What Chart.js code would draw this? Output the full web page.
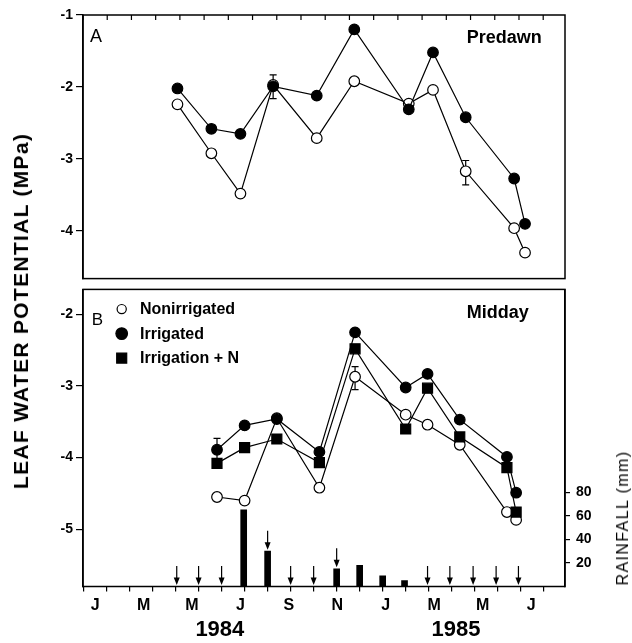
<!DOCTYPE html>
<html>
<head>
<meta charset="utf-8">
<script src="https://cdn.jsdelivr.net/npm/chart.js@4.4.1/dist/chart.umd.min.js"></script>
<style>
  html, body { margin: 0; padding: 0; background: #fff; }
  #wrap { position: relative; width: 632px; height: 643px; overflow: hidden; font-family: 'Liberation Sans', Arial, sans-serif; color: #000; }
  canvas { position: absolute; left: 0; }
  #cA { top: 0; }
  #cB { top: 275px; }
  .vt { position: absolute; white-space: nowrap; transform: translate(-50%, -50%) rotate(-90deg); }
</style>
</head>
<body>
<div id="wrap">
  <canvas id="cA" width="632" height="290"></canvas>
  <canvas id="cB" width="632" height="368"></canvas>
  <div class="vt" style="left:21px; top:311px; font-size:21px; font-weight:bold; letter-spacing:1.3px;">LEAF WATER POTENTIAL (MPa)</div>
  <div class="vt" style="left:623px; top:518px; font-size:16px; letter-spacing:1.4px;">RAINFALL (mm)</div>
</div>
<script>
// x values are months counted from 1 Jan 1984
const monthLabels = ['J', 'M', 'M', 'J', 'S', 'N', 'J', 'M', 'M', 'J'];
const monthLabelPos = [0.5, 2.5, 4.5, 6.5, 8.5, 10.5, 12.5, 14.5, 16.5, 18.5];
const yearLabels = ['1984', '1985'];
const yearLabelPos = [5.65, 15.4];

// A: predawn
const datesA = [3.9, 5.3, 6.5, 7.85, 9.65, 11.2, 13.45, 14.45, 15.8, 17.8, 18.25];
const irrigatedA = [-2.02, -2.58, -2.65, -1.99, -2.12, -1.2, -2.31, -1.52, -2.42, -3.27, -3.9];
const nonirrigatedA = [-2.24, -2.92, -3.48, -1.97, -2.71, -1.92, -2.23, -2.04, -3.17, -3.96, -4.3];
const errDatesA = [7.85, 15.8];
const errLowA = [-2.16, -3.36];
const errHighA = [-1.83, -3.02];

// B: midday
const datesB = [5.3, 6.5, 7.9, 9.75, 11.3, 13.5, 14.45, 15.85, 17.9, 18.3];
const nonirrigatedB = [-4.55, -4.6, -3.45, -4.42, -2.87, -3.4, -3.54, -3.82, -4.76, -4.87];
const irrigatedB = [-3.89, -3.55, -3.46, -3.92, -2.25, -3.02, -2.83, -3.47, -3.99, -4.49];
const irrigNB = [-4.08, -3.86, -3.74, -4.07, -2.48, -3.6, -3.03, -3.71, -4.14, -4.76];
const errDatesB = [5.3, 11.3];
const errLowB = [-4.05, -3.05];
const errHighB = [-3.73, -2.73];

// rainfall bars and irrigation arrows
const rainDates = [6.46, 7.5, 10.5, 11.5, 12.5, 13.45];
const rainfall = [65, 30, 15, 18, 9, 5];
const rainTicks = [20, 40, 60, 80];
const irrigDates = [3.55, 4.5, 5.5, 7.5, 8.5, 9.5, 10.5, 14.45, 15.42, 16.43, 17.43, 18.4];
const irrigLevel = [0, 0, 0, 30, 0, 0, 15, 0, 0, 0, 0, 0];

const X_MIN = 0, X_MAX = 19.9;

Chart.defaults.font.family = "'Liberation Sans', Arial, Helvetica, sans-serif";
Chart.defaults.color = '#000';

const pts = (xs, ys) => xs.map((x, i) => ({ x: x, y: ys[i] }));

function series(label, xs, ys, yAxisID, kind) {
  const filled = kind !== 'open';
  return {
    label: label, data: pts(xs, ys), yAxisID: yAxisID,
    borderColor: '#000', borderWidth: 1.2, tension: 0,
    pointStyle: kind === 'square' ? 'rect' : 'circle',
    pointRadius: kind === 'square' ? 7.07 : 5.3,
    pointBackgroundColor: filled ? '#000' : '#fff',
    pointBorderColor: '#000', pointBorderWidth: 1.2,
    legendRadius: kind === 'square' ? 7.07 : (filled ? 5.8 : 4.6)
  };
}

const framePlugin = {
  id: 'frame',
  afterDraw(chart) {
    const { ctx, chartArea: a } = chart;
    ctx.save();
    ctx.strokeStyle = '#000'; ctx.lineWidth = 1.5;
    ctx.strokeRect(a.left, a.top, a.right - a.left, a.bottom - a.top);
    ctx.restore();
  }
};

// month ticks pointing into panel A from its top edge
const topTicksPlugin = {
  id: 'topTicks',
  afterDraw(chart) {
    const { ctx, chartArea: a } = chart;
    const sx = chart.scales.x;
    ctx.save();
    ctx.strokeStyle = '#000'; ctx.lineWidth = 1.2;
    ctx.beginPath();
    sx.ticks.forEach(t => {
      const px = sx.getPixelForValue(t.value);
      ctx.moveTo(px, a.top); ctx.lineTo(px, a.top + 5);
    });
    ctx.stroke();
    ctx.restore();
  }
};

function makeErrBars(xs, lo, hi, axisId) {
  return {
    id: 'errBars',
    beforeDatasetsDraw(chart) {
      const ctx = chart.ctx, sx = chart.scales.x, sy = chart.scales[axisId];
      ctx.save();
      ctx.strokeStyle = '#000'; ctx.lineWidth = 1.2;
      xs.forEach((m, i) => {
        const px = sx.getPixelForValue(m);
        const y1 = sy.getPixelForValue(lo[i]), y2 = sy.getPixelForValue(hi[i]);
        ctx.beginPath();
        ctx.moveTo(px, y1); ctx.lineTo(px, y2);
        ctx.moveTo(px - 3.5, y1); ctx.lineTo(px + 3.5, y1);
        ctx.moveTo(px - 3.5, y2); ctx.lineTo(px + 3.5, y2);
        ctx.stroke();
      });
      ctx.restore();
    }
  };
}

function makePanelText(items) {
  return {
    id: 'panelText',
    afterDraw(chart) {
      const { ctx, chartArea: a } = chart;
      ctx.save();
      ctx.fillStyle = '#000'; ctx.textBaseline = 'alphabetic'; ctx.textAlign = 'left';
      items.forEach(it => {
        ctx.font = it.font + " 'Liberation Sans', Arial, sans-serif";
        ctx.fillText(it.text, a.left + it.dx, a.top + it.dy);
      });
      ctx.restore();
    }
  };
}

// irrigation dates, drawn as arrows onto the rainfall scale
const arrowPlugin = {
  id: 'arrows',
  afterDatasetsDraw(chart) {
    const ctx = chart.ctx, sx = chart.scales.x, sr = chart.scales.yR;
    ctx.save();
    ctx.strokeStyle = '#000'; ctx.fillStyle = '#000'; ctx.lineWidth = 1.2;
    irrigDates.forEach((m, i) => {
      const px = sx.getPixelForValue(m);
      const tip = sr.getPixelForValue(irrigLevel[i]) - 1.5;
      ctx.beginPath();
      ctx.moveTo(px, tip - 19); ctx.lineTo(px, tip - 5);
      ctx.stroke();
      ctx.beginPath();
      ctx.moveTo(px - 3, tip - 7.5); ctx.lineTo(px + 3, tip - 7.5); ctx.lineTo(px, tip);
      ctx.closePath(); ctx.fill();
    });
    ctx.restore();
  }
};

const legendOrder = ['Nonirrigated', 'Irrigated', 'Irrigation + N'];
const legendPlugin = {
  id: 'innerLegend',
  afterDraw(chart) {
    const { ctx, chartArea: a } = chart;
    ctx.save();
    legendOrder.forEach((name, row) => {
      const ds = chart.data.datasets.find(d => d.label === name);
      const cy = a.top + 19.7 + row * 24.5;
      ctx.fillStyle = ds.pointBackgroundColor; ctx.strokeStyle = '#000';
      ctx.lineWidth = 1.2;
      Chart.helpers.drawPoint(ctx, { pointStyle: ds.pointStyle, rotation: 0, radius: ds.legendRadius, borderWidth: 1.2 }, a.left + 38.7, cy);
      ctx.fillStyle = '#000';
      ctx.font = "bold 16px 'Liberation Sans', Arial, sans-serif";
      ctx.textBaseline = 'middle'; ctx.textAlign = 'left';
      ctx.fillText(name, a.left + 57, cy + 0.5);
    });
    ctx.restore();
  }
};

const yTickFont = { size: 14, weight: 'bold' };
const axisGrid = { drawOnChartArea: false, tickLength: 7, color: '#000', lineWidth: 1.2 };

new Chart(document.getElementById('cA'), {
  type: 'line',
  data: {
    datasets: [
      series('Irrigated', datesA, irrigatedA, 'yA', 'filled'),
      series('Nonirrigated', datesA, nonirrigatedA, 'yA', 'open')
    ]
  },
  options: {
    responsive: false, animation: false,
    layout: { padding: { left: 0, right: 67, top: 15, bottom: 7 } },
    plugins: { legend: { display: false }, tooltip: { enabled: false } },
    scales: {
      x: {
        type: 'linear', position: 'top', min: X_MIN, max: X_MAX,
        ticks: { display: false, stepSize: 1, includeBounds: false },
        grid: { drawOnChartArea: false, drawTicks: false }, border: { display: false },
        afterFit: s => { s.height = 0; }
      },
      yA: {
        position: 'left', min: -4.66, max: -1,
        ticks: { stepSize: 1, includeBounds: false, font: yTickFont, padding: 3 },
        grid: axisGrid, border: { color: '#000', width: 1.5 },
        afterFit: s => { s.width = 83; }
      }
    }
  },
  plugins: [framePlugin, topTicksPlugin, makeErrBars(errDatesA, errLowA, errHighA, 'yA'),
    makePanelText([
      { text: 'A', dx: 7, dy: 27.3, font: '18px' },
      { text: 'Predawn', dx: 383.7, dy: 28.3, font: 'bold 18px' }
    ])]
});

new Chart(document.getElementById('cB'), {
  type: 'line',
  data: {
    datasets: [
      {
        type: 'bar', label: 'Rainfall', data: pts(rainDates, rainfall), yAxisID: 'yR', xAxisID: 'x',
        backgroundColor: '#000', borderWidth: 0, barThickness: 6, grouped: false
      },
      series('Irrigated', datesB, irrigatedB, 'yB', 'filled'),
      series('Irrigation + N', datesB, irrigNB, 'yB', 'square'),
      series('Nonirrigated', datesB, nonirrigatedB, 'yB', 'open')
    ]
  },
  options: {
    responsive: false, animation: false,
    layout: { padding: { left: 0, right: 0, top: 8, bottom: 0 } },
    plugins: { legend: { display: false }, tooltip: { enabled: false } },
    scales: {
      x: {
        type: 'linear', position: 'bottom', weight: 0, min: X_MIN, max: X_MAX,
        ticks: { display: false, stepSize: 1, includeBounds: false },
        grid: { drawOnChartArea: false, tickLength: 5, color: '#000', lineWidth: 1.2 },
        border: { display: false },
        afterFit: s => { s.height = 5; }
      },
      xl: {
        type: 'linear', position: 'bottom', weight: 1, min: X_MIN, max: X_MAX,
        grid: { display: false, drawTicks: false }, border: { display: false },
        afterBuildTicks: s => { s.ticks = monthLabelPos.map(v => ({ value: v })); },
        ticks: { autoSkip: false, maxRotation: 0, padding: 4.4, font: { size: 16, weight: 'bold' },
          callback: (v, i) => monthLabels[i] },
        afterFit: s => { s.height = 22; }
      },
      xy: {
        type: 'linear', position: 'bottom', weight: 2, min: X_MIN, max: X_MAX,
        grid: { display: false, drawTicks: false }, border: { display: false },
        afterBuildTicks: s => { s.ticks = yearLabelPos.map(v => ({ value: v })); },
        ticks: { autoSkip: false, maxRotation: 0, padding: 3.3, font: { size: 22, weight: 'bold' },
          callback: (v, i) => yearLabels[i] },
        afterFit: s => { s.height = 29.5; }
      },
      yB: {
        position: 'left', min: -5.8, max: -1.65,
        ticks: { stepSize: 1, includeBounds: false, font: yTickFont, padding: 3 },
        grid: axisGrid, border: { color: '#000', width: 1.5 },
        afterFit: s => { s.width = 83; }
      },
      yR: {
        position: 'right', min: 0, max: 252,
        afterBuildTicks: s => { s.ticks = rainTicks.map(v => ({ value: v })); },
        ticks: { font: { size: 14, weight: 'bold' }, padding: 6 },
        grid: { drawOnChartArea: false, tickLength: 5, color: '#000', lineWidth: 1.2 },
        border: { color: '#000', width: 1.5 },
        afterFit: s => { s.width = 67; }
      }
    }
  },
  plugins: [framePlugin, makeErrBars(errDatesB, errLowB, errHighB, 'yB'), arrowPlugin, legendPlugin,
    makePanelText([
      { text: 'B', dx: 8.7, dy: 35.3, font: '17px' },
      { text: 'Midday', dx: 383.7, dy: 28.7, font: 'bold 18px' }
    ])]
});
</script>
</body>
</html>
